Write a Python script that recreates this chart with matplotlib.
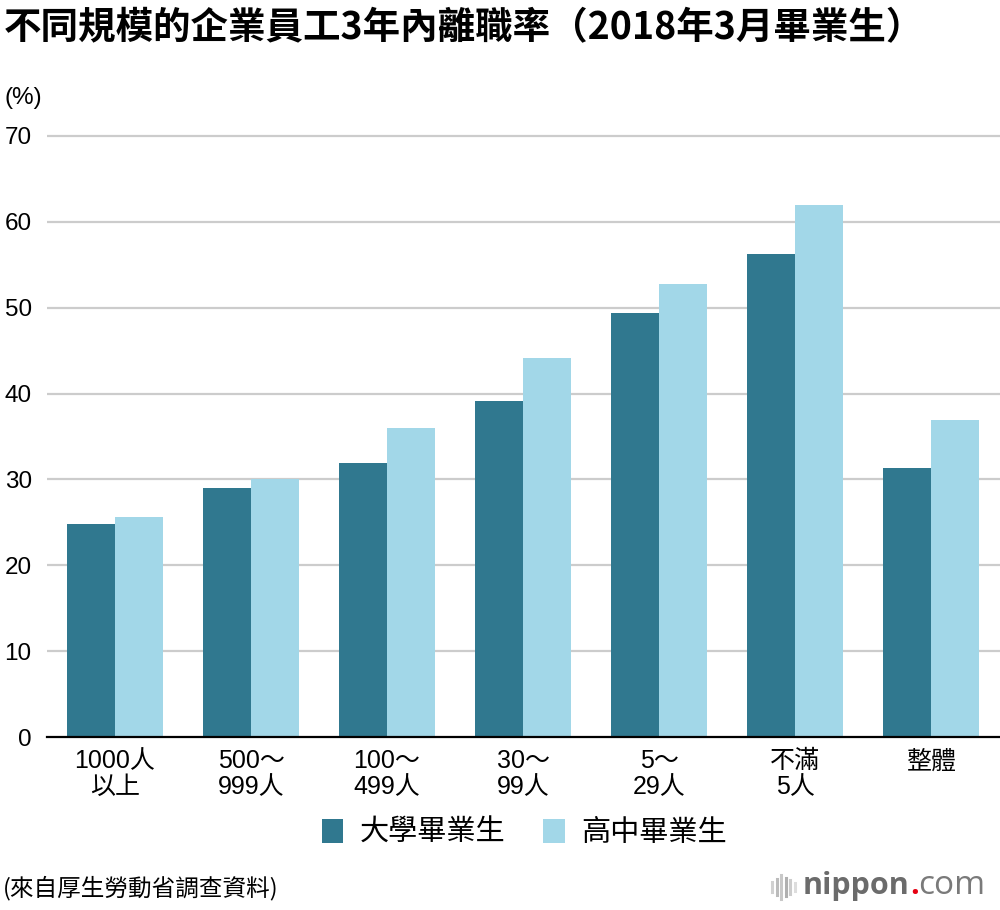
import numpy as np
import matplotlib
matplotlib.use("Agg")
import matplotlib.pyplot as plt
from matplotlib.patches import Patch
from matplotlib.lines import Line2D

plt.rcParams['font.family'] = ['Noto Sans CJK TC', 'DejaVu Sans']

# 資料（厚生勞動省）
categories = ["1000人\n以上", "500～\n999人", "100～\n499人", "30～\n99人", "5～\n29人", "不滿\n5人", "整體"]
university = [24.8, 29.0, 31.9, 39.1, 49.4, 56.3, 31.3]
highschool = [25.6, 30.0, 36.0, 44.1, 52.8, 62.0, 36.9]
series_names = ["大學畢業生", "高中畢業生"]
yticks = [0, 10, 20, 30, 40, 50, 60, 70]

dark = "#30788f"
light = "#a2d7e8"

fig = plt.figure(figsize=(10, 9.1), dpi=100)
bottom = 1 - 737 / 910
top = 1 - (737 - 72 * 601 / 70) / 910
ax = fig.add_axes([0.047, bottom, 0.953, top - bottom])

x = np.arange(len(categories))
w = 0.352
ax.bar(x - w / 2, university, w, color=dark, zorder=3)
ax.bar(x + w / 2, highschool, w, color=light, zorder=3)

ax.set_xlim(-0.5, 6.507)
ax.set_ylim(0, 72)
ax.set_yticks(yticks)
for t in yticks[1:]:
    ax.axhline(t, color="#cccccc", lw=1.6, zorder=1)

for s in ["top", "right", "left"]:
    ax.spines[s].set_visible(False)
ax.spines["bottom"].set_color("black")
ax.spines["bottom"].set_linewidth(1.6)
ax.spines["bottom"].set_zorder(4)

ax.tick_params(axis="y", length=0, pad=11)
ax.tick_params(axis="x", length=0, pad=9)
ax.set_yticklabels([str(t) for t in yticks], fontsize=17.5,
                   family=['Liberation Sans', 'Noto Sans CJK TC'])
ax.set_xticks(x)
ax.set_xticklabels(categories, fontsize=18, linespacing=1.08,
                   family=['Liberation Sans', 'Noto Sans CJK TC'])

fig.text(0.004, 1 - 28 / 910, "不同規模的企業員工3年內離職率（2018年3月畢業生）",
         fontsize=27, fontweight="bold", va="center", ha="left")
fig.text(0.004, 1 - 98 / 910, "(%)", fontsize=17.5, va="center", ha="left",
         family=['Liberation Sans', 'DejaVu Sans'])

handles = [Patch(facecolor=dark), Patch(facecolor=light)]
fig.legend(handles, series_names, loc="center", bbox_to_anchor=(0.524, 1 - 833 / 910),
           ncol=2, frameon=False, fontsize=21, handlelength=0.75, handleheight=0.85,
           handletextpad=0.55, columnspacing=1.3)

fig.text(0.003, 1 - 888 / 910, "(來自厚生勞動省調查資料)", fontsize=17,
         va="center", ha="left")

# nippon.com 標誌
for i, (hh, c) in enumerate(zip([0.4, 0.7, 1.0, 0.8, 0.55, 0.35],
                                ["#d0d0d0", "#bbbbbb", "#c8c8c8", "#b0b0b0", "#cccccc", "#dddddd"])):
    xx = 0.772 + i * 0.0045
    yc = 1 - 887 / 910
    fig.add_artist(Line2D([xx, xx], [yc - hh * 0.013, yc + hh * 0.013], color=c, lw=2.2,
                          transform=fig.transFigure))
logo_y = 1 - 886 / 910
t1 = fig.text(0.803, logo_y, "nippon", fontsize=22, fontweight="bold", color="#6b6b6b",
              va="center", ha="left", family=['Open Sans', 'DejaVu Sans'])
fig.canvas.draw()
bb = t1.get_window_extent()
x1 = bb.x1 / fig.bbox.width
t2 = fig.text(x1, logo_y, ".", fontsize=22, fontweight="bold", color="#e60012",
              va="center", ha="left", family=['Open Sans', 'DejaVu Sans'])
fig.canvas.draw()
x2 = t2.get_window_extent().x1 / fig.bbox.width
fig.text(x2, logo_y, "com", fontsize=24, color="#7a7a7a",
         va="center", ha="left", family=['Open Sans', 'DejaVu Sans'])

fig.savefig("out.png", dpi=100)
